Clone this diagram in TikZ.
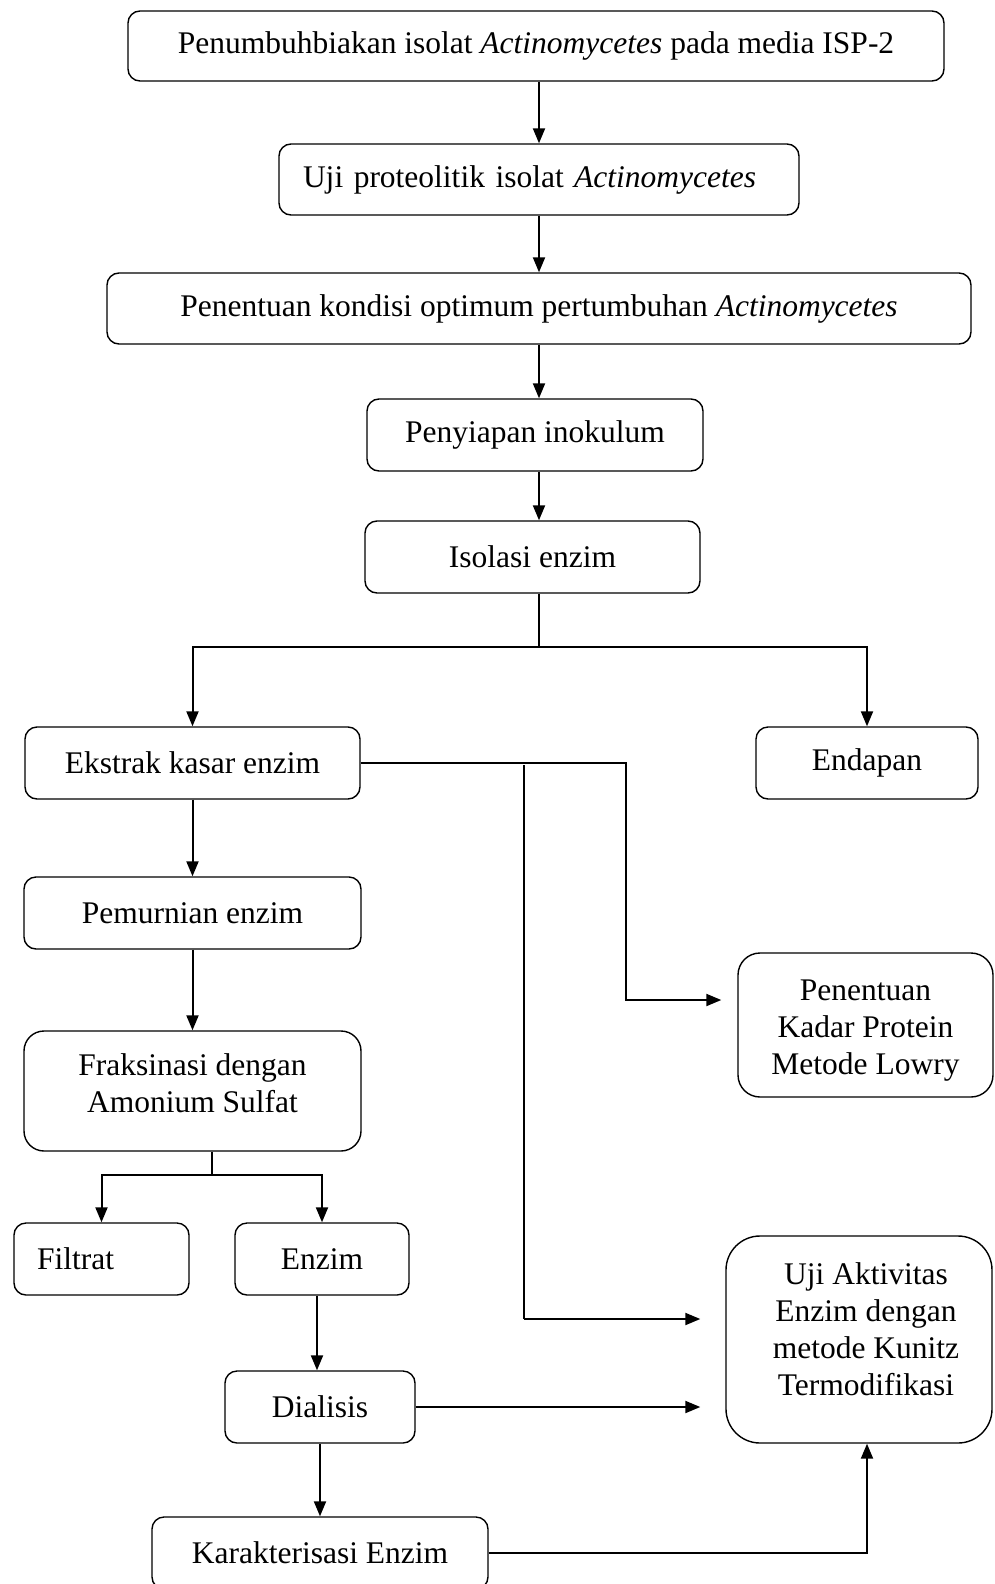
\documentclass[tikz,border=0pt]{standalone}
\usepackage{fontspec}
\setmainfont{Liberation Serif}
\usetikzlibrary{arrows.meta}
\newcommand{\shiftedtext}[3]{\hspace*{#1}\raisebox{#2}[\height][\depth]{\begin{tabular}{@{}c@{}}#3\end{tabular}}\hspace*{-#1}}
\begin{document}
\begin{tikzpicture}[x=1pt,y=-1pt,
 box/.style={draw, line width=1.4pt, rounded corners=12pt, align=center, inner sep=0pt, font=\fontsize{31.5}{37}\selectfont},
 arr/.style={line width=2pt, -{Triangle[length=15pt,width=12pt]}},
 ln/.style={line width=1.2pt}]
\useasboundingbox (0,0) rectangle (994,1584);
\node[box, minimum width=816, minimum height=70] (b1) at (536,46) {Penumbuhbiakan isolat \textit{Actinomycetes} pada media ISP-2};
\node[box, text width=472pt, inner xsep=24pt, align=left, minimum height=71] (b2) at (539,179.5) {Uji proteolitik isolat \textit{Actinomycetes}};
\node[box, minimum width=864, minimum height=71] (b3) at (539,308.5) {Penentuan kondisi optimum pertumbuhan \textit{Actinomycetes}};
\node[box, minimum width=336, minimum height=72] (b4) at (535,435) {Penyiapan inokulum};
\node[box, minimum width=335, minimum height=72] (b5) at (532.5,557) {Isolasi enzim};
\node[box, minimum width=335, minimum height=72] (ek) at (192.5,763) {Ekstrak kasar enzim};
\node[box, minimum width=222, minimum height=72] (end) at (867,763) {Endapan};
\node[box, minimum width=337, minimum height=72] (pem) at (192.5,913) {Pemurnian enzim};
\node[box, rounded corners=20pt, minimum width=337, minimum height=120] (fr) at (192.5,1091) {\shiftedtext{0pt}{4pt}{Fraksinasi dengan\\Amonium Sulfat}};
\node[box, rounded corners=22pt, minimum width=255, minimum height=144] (kad) at (865.5,1025) {\shiftedtext{0pt}{-5pt}{Penentuan\\Kadar Protein\\Metode Lowry}};
\node[box, text width=129pt, inner xsep=23pt, align=left, minimum height=72] (fil) at (101.5,1259) {Filtrat};
\node[box, minimum width=174, minimum height=72] (enz) at (322,1259) {Enzim};
\node[box, minimum width=190, minimum height=72] (dia) at (320,1407) {Dialisis};
\node[box, rounded corners=34pt, minimum width=266, minimum height=207] (uji) at (859,1339.5) {\shiftedtext{7pt}{7pt}{Uji Aktivitas\\Enzim dengan\\metode Kunitz\\Termodifikasi}};
\node[box, minimum width=336, minimum height=72] (kar) at (320,1553) {Karakterisasi Enzim};

\coordinate (ax) at (539,0);
\draw[arr] (b1.south -| ax) -- (b2.north -| ax);
\draw[arr] (b2.south -| ax) -- (b3.north -| ax);
\draw[arr] (b3.south -| ax) -- (b4.north -| ax);
\draw[arr] (b4.south -| ax) -- (b5.north -| ax);

\coordinate (s1) at (539,647);
\draw[ln] (b5.south -| s1) -- (s1);
\draw[arr] (s1) -| (ek.north);
\draw[arr] (s1) -| (end.north);

\draw[arr] (ek.south) -- (pem.north);
\draw[arr] (pem.south) -- (fr.north);

\coordinate (c1) at (626,1000);
\draw[arr, shorten >=16pt] (ek.east) -| (c1) -- (c1 -| kad.west);

\coordinate (v0) at (524,765);
\coordinate (v1) at (524,1319);
\draw[ln] (v0) -- (v1);
\draw[arr, shorten >=25pt] (v1) -- (v1 -| uji.west);

\coordinate (s2) at (212,1175);
\draw[ln] (fr.south -| s2) -- (s2);
\draw[arr] (s2) -| (fil.north);
\draw[arr] (s2) -| (enz.north);

\draw[arr] ([xshift=-5pt]enz.south) -- ([xshift=-5pt]enz.south |- dia.north);
\draw[arr, shorten >=25pt] (dia.east) -- (dia.east -| uji.west);
\draw[arr] (dia.south) -- (kar.north);
\draw[arr] (kar.east) -| ([xshift=8pt]uji.south);
\end{tikzpicture}
\end{document}
